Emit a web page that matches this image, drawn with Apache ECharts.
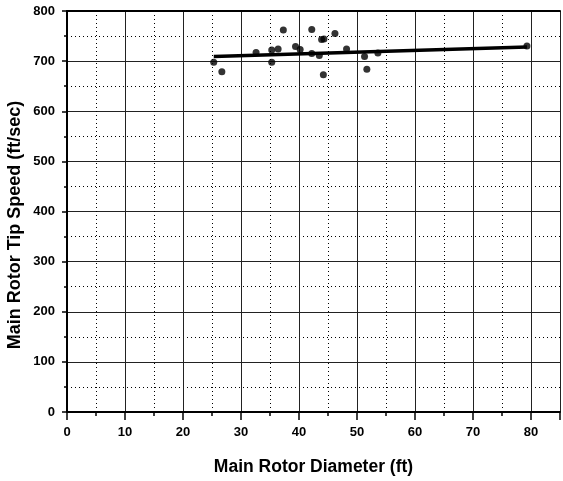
<!DOCTYPE html>
<html>
<head>
<meta charset="utf-8">
<script src="https://cdn.jsdelivr.net/npm/echarts@6/dist/echarts.min.js"></script>
<style>
  html, body { margin: 0; padding: 0; background: #fff; }
  #chart { width: 563px; height: 481px; }
</style>
</head>
<body>
<div id="chart"></div>
<script>
// Main rotor diameter (ft) vs. main rotor tip speed (ft/sec)
const rotorDiameter = [25.3, 26.7, 32.6, 35.3, 35.3, 36.4, 37.3, 39.4, 40.2, 42.2, 42.2, 43.5, 43.9, 44.3, 44.2, 46.2, 48.2, 51.3, 51.7, 53.6, 79.3];
const tipSpeed      = [698, 679, 717, 722, 698, 724, 762, 729, 723, 763, 715, 711, 743, 744, 673, 755, 724, 709, 684, 716, 730];

// Linear trend line end points
const trendDiameter = [25.3, 79.3];
const trendSpeed    = [709, 728];

const xTicks = [0, 10, 20, 30, 40, 50, 60, 70, 80];
const yTicks = [0, 100, 200, 300, 400, 500, 600, 700, 800];

const FONT = '"Liberation Sans", Arial, sans-serif';

const points = rotorDiameter.map((d, i) => [d, tipSpeed[i]]);
const trend = trendDiameter.map((d, i) => [d, trendSpeed[i]]);

const chart = echarts.init(document.getElementById('chart'), null, { renderer: 'canvas' });

chart.setOption({
  animation: false,
  backgroundColor: '#fff',
  grid: { left: 67, right: 0, top: 11, bottom: 68, containLabel: false },
  xAxis: [{
    type: 'value',
    min: 0, max: 85, interval: 10,
    name: 'Main Rotor Diameter (ft)',
    nameLocation: 'middle',
    nameGap: 46,
    nameTextStyle: { fontFamily: FONT, fontWeight: 'bold', fontSize: 17.5, color: '#000' },
    axisLine: { show: true, onZero: false, lineStyle: { color: '#000', width: 2 } },
    axisTick: { show: true, length: 8, lineStyle: { color: '#000', width: 1.5 } },
    minorTick: { show: true, splitNumber: 2, length: 4, lineStyle: { color: '#000', width: 1.5 } },
    axisLabel: {
      fontFamily: FONT, fontWeight: 'bold', fontSize: 13, color: '#000', margin: 14,
      formatter: v => xTicks.includes(v) ? String(v) : ''
    },
    splitLine: { show: true, lineStyle: { color: '#222', width: 1 } },
    minorSplitLine: { show: true, lineStyle: { color: '#000', width: 1, type: [1, 3] } }
  }, {
    type: 'value',
    position: 'top',
    min: 0, max: 85,
    axisLine: { show: true, onZero: false, lineStyle: { color: '#000', width: 2 } },
    axisTick: { show: false },
    axisLabel: { show: false },
    splitLine: { show: false }
  }],
  yAxis: {
    type: 'value',
    min: 0, max: 800, interval: 100,
    axisLine: { show: true, onZero: false, lineStyle: { color: '#000', width: 2 } },
    axisTick: { show: true, length: 5, lineStyle: { color: '#000', width: 1.5 } },
    minorTick: { show: true, splitNumber: 2, length: 3, lineStyle: { color: '#000', width: 1.5 } },
    axisLabel: {
      fontFamily: FONT, fontWeight: 'bold', fontSize: 13, color: '#000', margin: 12,
      formatter: v => yTicks.includes(v) ? String(v) : ''
    },
    splitLine: { show: true, lineStyle: { color: '#222', width: 1 } },
    minorSplitLine: { show: true, lineStyle: { color: '#000', width: 1, type: [1, 3] } }
  },
  graphic: [{
    type: 'text',
    x: 15, y: 225,
    rotation: Math.PI / 2,
    style: {
      text: 'Main Rotor Tip Speed (ft/sec)',
      fontFamily: FONT, fontWeight: 'bold', fontSize: 18, fill: '#000',
      align: 'center', verticalAlign: 'middle'
    }
  }],
  series: [{
    type: 'line',
    data: trend,
    symbol: 'none',
    lineStyle: { color: '#000', width: 3.5 },
    z: 3
  }, {
    type: 'scatter',
    data: points,
    symbol: 'circle',
    symbolSize: 7,
    itemStyle: { color: '#000' },
    z: 4
  }]
});
</script>
</body>
</html>
